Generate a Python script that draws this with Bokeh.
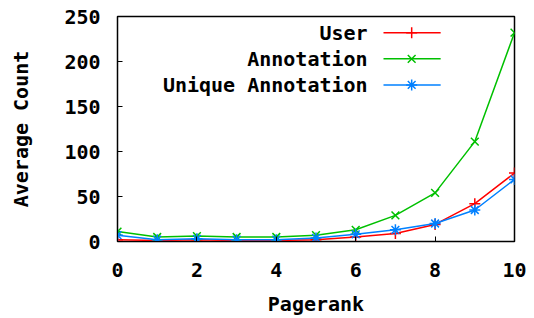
from bokeh.plotting import figure
from bokeh.models import Range1d, FixedTicker, Label
from bokeh.embed import file_html
from bokeh.resources import INLINE

pagerank = [0, 1, 2, 3, 4, 5, 6, 7, 8, 9, 10]
user = [2, 1, 2, 1, 1, 2, 5, 9, 19, 42, 76]
annotation = [11, 5, 6, 5, 5, 7, 13, 29, 54, 111, 232]
unique_annotation = [7, 2, 3, 2, 2, 4, 8, 13, 20, 35, 69]
series_names = ["User", "Annotation", "Unique Annotation"]
x_ticks = [0, 2, 4, 6, 8, 10]
y_ticks = [0, 50, 100, 150, 200, 250]

FONT = "DejaVu Sans Mono"
FS = "20px"

p = figure(width=526, height=318, output_backend="svg", toolbar_location=None,
           x_range=Range1d(0, 10), y_range=Range1d(0, 250),
           min_border_left=117, min_border_right=12, min_border_top=16, min_border_bottom=60)
p.background_fill_color = "white"
p.border_fill_color = "white"
p.outline_line_color = "black"
p.outline_line_width = 1.5
p.grid.visible = False

for ax in (p.xaxis[0], p.yaxis[0]):
    ax.major_tick_in = 5
    ax.major_tick_out = 0
    ax.minor_tick_line_color = None
    ax.axis_line_color = "black"
    ax.major_label_text_font = FONT
    ax.major_label_text_font_style = "bold"
    ax.major_label_text_font_size = FS
    ax.major_label_text_color = "black"
    ax.axis_label_text_font = FONT
    ax.axis_label_text_font_style = "bold"
    ax.axis_label_text_font_size = FS
    ax.axis_label_text_color = "black"

p.xaxis.ticker = FixedTicker(ticks=x_ticks)
p.yaxis.ticker = FixedTicker(ticks=y_ticks)
p.xaxis.axis_label = "Pagerank"
p.yaxis.axis_label = "Average Count"
p.xaxis.major_label_standoff = 21
p.yaxis.major_label_standoff = 17
p.xaxis.axis_label_standoff = 12
p.yaxis.axis_label_standoff = 28

colors = ["#ff0000", "#00c000", "#0080ff"]
markers = ["cross", "x", "asterisk"]
data = [user, annotation, unique_annotation]

for ys, c, m in zip(data, colors, markers):
    p.line(pagerank, ys, line_color=c, line_width=1.5)
    p.scatter(pagerank, ys, marker=m, size=11, line_color=c, line_width=1.5, fill_color=c)

# manual legend (text right-aligned, sample on the right)
leg_text_x = 6.30
leg_x0 = 6.70
leg_x1 = 8.14
leg_xm = 7.41
leg_vals = [232, 203, 174]
for name, c, m, v in zip(series_names, colors, markers, leg_vals):
    p.add_layout(Label(x=leg_text_x, y=v, text=name,
                       text_font=FONT, text_font_style="bold", text_font_size=FS,
                       text_align="right", text_baseline="middle", text_color="black"))
    p.line([leg_x0, leg_x1], [v, v], line_color=c, line_width=1.5)
    p.scatter([leg_xm], [v], marker=m, size=11, line_color=c, line_width=1.5, fill_color=c)

open("out.html", "w").write(file_html(p, INLINE))
